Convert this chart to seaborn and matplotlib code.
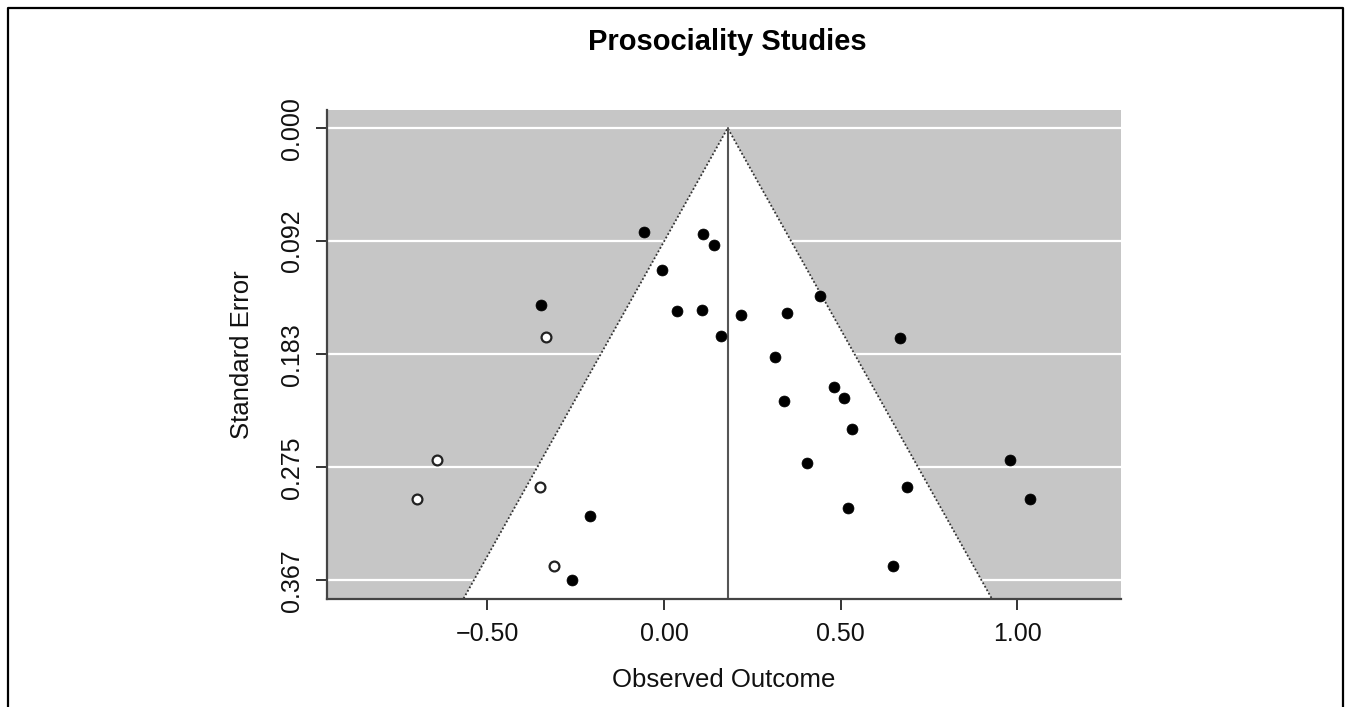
import matplotlib
matplotlib.use("Agg")
import matplotlib.pyplot as plt
from matplotlib.lines import Line2D
import numpy as np
import pandas as pd
import seaborn as sns

# ---- data ----
obs_effect = [-0.057, 0.111, 0.140, -0.0065, -0.349, 0.038, 0.108, 0.219, 0.161,
              0.348, 0.440, 0.669, 0.314, 0.480, 0.510, 0.340, 0.531, -0.210,
              -0.261, 0.404, 0.688, 0.520, 0.648, 0.980, 1.036]
obs_se = [0.0841, 0.0857, 0.0951, 0.1149, 0.1438, 0.1484, 0.1475, 0.1516, 0.1684,
          0.1500, 0.1365, 0.1702, 0.1856, 0.2097, 0.2186, 0.2216, 0.2437, 0.3143,
          0.3667, 0.2716, 0.2910, 0.3080, 0.3553, 0.2689, 0.3010]
fill_effect = [-0.333, -0.644, -0.700, -0.351, -0.312]
fill_se = [0.1697, 0.2689, 0.3010, 0.2910, 0.3550]
center_est = 0.18
x_ticks = [-0.50, 0.00, 0.50, 1.00]
x_tick_labels = ["\u22120.50", "0.00", "0.50", "1.00"]
title = "Prosociality Studies"
xlabel = "Observed Outcome"
ylabel = "Standard Error"

df_obs = pd.DataFrame({"effect": obs_effect, "se": obs_se})
df_fill = pd.DataFrame({"effect": fill_effect, "se": fill_se})

sns.set_style("ticks")
plt.rcParams["font.family"] = ["Liberation Sans", "DejaVu Sans"]

W, H = 1345, 707
fig = plt.figure(figsize=(W / 100, H / 100), dpi=100)
ax_l, ax_r, ax_t, ax_b = 326.7, 1120.5, 110.0, 598.5
ax = fig.add_axes([ax_l / W, 1 - ax_b / H, (ax_r - ax_l) / W, (ax_b - ax_t) / H])

max_se = max(obs_se + fill_se)
ylim_bottom = max_se * 1.04
ylim_top = -max_se * 0.04
ax.set_xlim(-0.955, 1.292)
ax.set_ylim(ylim_bottom, ylim_top)

ax.set_facecolor("#c6c6c6")
y_ticks = np.linspace(0, max_se, 5)
for yt in y_ticks:
    ax.axhline(yt, color="white", lw=1.6, zorder=0.5)

# funnel
z = 1.96
lo = center_est - z * ylim_bottom
hi = center_est + z * ylim_bottom
ax.fill([lo, center_est, hi], [ylim_bottom, 0, ylim_bottom], color="white", zorder=1, lw=0)
ax.plot([lo, center_est, hi], [ylim_bottom, 0, ylim_bottom], color="#333333",
        ls=(0, (1, 1.2)), lw=1.3, zorder=2)
ax.plot([center_est, center_est], [0, ylim_bottom], color="#555555", lw=1.5, zorder=2)

sns.scatterplot(data=df_obs, x="effect", y="se", ax=ax, color="black", s=62,
                edgecolor="black", linewidth=0.5, zorder=5, legend=False)
sns.scatterplot(data=df_fill, x="effect", y="se", ax=ax, color="white", s=50,
                edgecolor="#222222", linewidth=1.6, zorder=5, legend=False)

ax.set_xticks(x_ticks)
ax.set_xticklabels(x_tick_labels)
ax.set_yticks(y_ticks)
ax.set_yticklabels([f"{v:.3f}" for v in y_ticks], rotation=90, va="center")
ax.tick_params(axis="both", labelsize=18, length=8, width=1.4, color="#333333",
               labelcolor="#111111", direction="out")
ax.tick_params(axis="x", pad=9)
ax.tick_params(axis="y", pad=8)

for side in ["top", "right"]:
    ax.spines[side].set_visible(False)
for side in ["left", "bottom"]:
    ax.spines[side].set_color("#444444")
    ax.spines[side].set_linewidth(1.6)

ax.set_xlabel(xlabel, fontsize=18.5, color="#111111", va="center")
ax.xaxis.set_label_coords(0.5, (ax_b - 680) / (ax_b - ax_t))
ax.set_ylabel(ylabel, fontsize=18.5, color="#111111", va="center")
ax.yaxis.set_label_coords((241.7 - ax_l) / (ax_r - ax_l), 0.5)

fig.text(727 / W, 1 - 42 / H, title, ha="center", va="center", fontsize=21,
         fontweight="bold", color="black")

# outer frame (left, top, right)
fx0, fx1, fy = 8 / W, 1343 / W, 1 - 7.5 / H
fig.add_artist(Line2D([fx0, fx0, fx1, fx1], [0, fy, fy, 0], color="black", lw=1.6,
                      transform=fig.transFigure))

fig.savefig("out.png", dpi=100, facecolor="white")
